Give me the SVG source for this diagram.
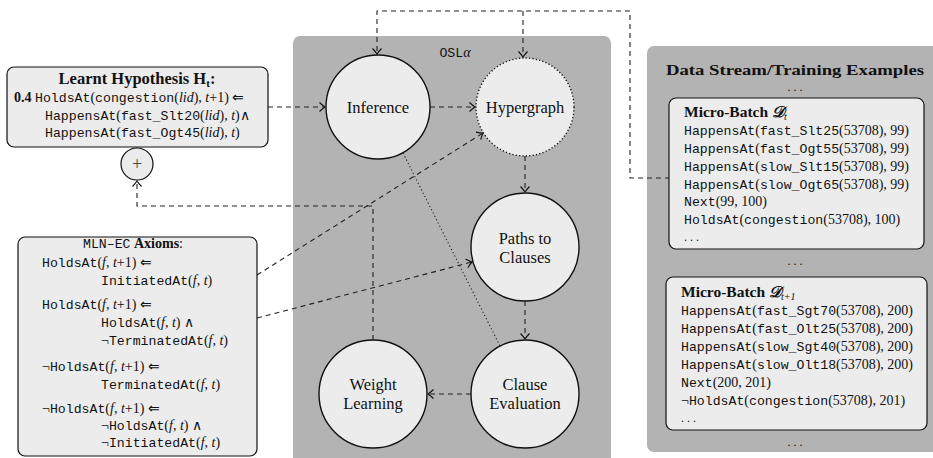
<svg xmlns="http://www.w3.org/2000/svg" width="933" height="458" viewBox="0 0 933 458">
<defs>
<style>
text{font-family:"Liberation Serif",serif;font-size:14px;fill:#111}
.tt{font-family:"Liberation Mono",monospace;font-size:13.2px}
.b{font-weight:bold}
.i{font-style:italic}
.lbl{font-size:16.5px}
.panel{fill:#b3b3b3}
.box{fill:#ececec;stroke:#111;stroke-width:1.2}
.node{fill:#ececec;stroke:#111;stroke-width:1.4}
.dot{stroke-dasharray:1.2,2.2}
.c{fill:none;stroke:#222;stroke-width:1.1;stroke-dasharray:5,4}
.cd{fill:none;stroke:#222;stroke-width:1.1;stroke-dasharray:1.2,2.5}
.dots{font-size:12px}
</style>
<marker id="ar" viewBox="-7 -6 9 12" refX="0" refY="0" markerWidth="9" markerHeight="12" markerUnits="userSpaceOnUse" orient="auto">
<path d="M-5.5,-4.5 Q-2,-1.2 0,0 Q-2,1.2 -5.5,4.5" fill="none" stroke="#111" stroke-width="1.1"/>
</marker>
</defs>

<rect class="panel" x="293" y="36" width="318" height="440" rx="7"/>
<rect class="panel" x="647" y="46" width="300" height="406" rx="7"/>
<text x="455" y="57" text-anchor="middle"><tspan class="tt">OSL</tspan><tspan class="i">α</tspan></text>

<g id="connectors">
<path class="c" d="M670,178 H630 V11 H377 V54" marker-end="url(#ar)"/>
<path class="c" d="M523,11 V57" marker-end="url(#ar)"/>
<path class="c" d="M268,107 H325" marker-end="url(#ar)"/>
<path class="c" d="M430,107 H475" marker-end="url(#ar)"/>
<path class="c" d="M525,156 V192" marker-end="url(#ar)"/>
<path class="c" d="M525,301 V339" marker-end="url(#ar)"/>
<path class="c" d="M471,394 H428" marker-end="url(#ar)"/>
<path class="c" d="M373,340 V206 H137 V181" marker-end="url(#ar)"/>
<path class="c" d="M257,275 L483,133" marker-end="url(#ar)"/>
<path class="c" d="M257,318 L472,262" marker-end="url(#ar)"/>
<path class="cd" d="M403,153 L500,346"/>
</g>

<g id="hypothesis">
<rect class="box" x="7" y="67" width="261" height="80" rx="7"/>
<text x="137" y="84" text-anchor="middle" class="b" style="font-size:16.5px">Learnt Hypothesis H<tspan font-size="11" dy="3">t</tspan><tspan dy="-3">:</tspan></text>
<text x="14" y="102"><tspan class="b">0.4</tspan> <tspan class="tt">HoldsAt</tspan>(<tspan class="tt">congestion</tspan>(<tspan class="i">lid</tspan>), <tspan class="i">t</tspan>+1) ⇐</text>
<text x="45" y="120"><tspan class="tt">HappensAt</tspan>(<tspan class="tt">fast_Slt20</tspan>(<tspan class="i">lid</tspan>), <tspan class="i">t</tspan>)∧</text>
<text x="45" y="137"><tspan class="tt">HappensAt</tspan>(<tspan class="tt">fast_Ogt45</tspan>(<tspan class="i">lid</tspan>), <tspan class="i">t</tspan>)</text>
</g>

<g id="plus">
<circle class="box" cx="137" cy="164" r="16"/>
<text x="137" y="170" text-anchor="middle" style="font-size:18px;fill:#444">+</text>
</g>

<g id="axioms">
<rect class="box" x="18" y="237" width="239" height="219" rx="7"/>
<text x="133" y="248" text-anchor="middle"><tspan class="tt">MLN–EC</tspan> <tspan class="b">Axioms</tspan>:</text>
<text x="42" y="267"><tspan class="tt">HoldsAt</tspan>(<tspan class="i">f</tspan>, <tspan class="i">t</tspan>+1) ⇐</text>
<text x="101" y="285"><tspan class="tt">InitiatedAt</tspan>(<tspan class="i">f</tspan>, <tspan class="i">t</tspan>)</text>
<text x="42" y="309"><tspan class="tt">HoldsAt</tspan>(<tspan class="i">f</tspan>, <tspan class="i">t</tspan>+1) ⇐</text>
<text x="101" y="327"><tspan class="tt">HoldsAt</tspan>(<tspan class="i">f</tspan>, <tspan class="i">t</tspan>) ∧</text>
<text x="101" y="345">¬<tspan class="tt">TerminatedAt</tspan>(<tspan class="i">f</tspan>, <tspan class="i">t</tspan>)</text>
<text x="42" y="371">¬<tspan class="tt">HoldsAt</tspan>(<tspan class="i">f</tspan>, <tspan class="i">t</tspan>+1) ⇐</text>
<text x="101" y="389"><tspan class="tt">TerminatedAt</tspan>(<tspan class="i">f</tspan>, <tspan class="i">t</tspan>)</text>
<text x="42" y="413">¬<tspan class="tt">HoldsAt</tspan>(<tspan class="i">f</tspan>, <tspan class="i">t</tspan>+1) ⇐</text>
<text x="101" y="430">¬<tspan class="tt">HoldsAt</tspan>(<tspan class="i">f</tspan>, <tspan class="i">t</tspan>) ∧</text>
<text x="101" y="447">¬<tspan class="tt">InitiatedAt</tspan>(<tspan class="i">f</tspan>, <tspan class="i">t</tspan>)</text>
</g>

<g id="inference">
<circle class="node" cx="378" cy="107" r="52"/>
<text class="lbl" x="378" y="113" text-anchor="middle">Inference</text>
</g>
<g id="hypergraph">
<circle class="node dot" cx="525" cy="107" r="49"/>
<text class="lbl" x="525" y="113" text-anchor="middle">Hypergraph</text>
</g>
<g id="paths">
<circle class="node" cx="525" cy="247" r="54"/>
<text class="lbl" x="525" y="244" text-anchor="middle">Paths to</text>
<text class="lbl" x="525" y="263" text-anchor="middle">Clauses</text>
</g>
<g id="evaluation">
<circle class="node" cx="525" cy="394" r="54"/>
<text class="lbl" x="525" y="390" text-anchor="middle">Clause</text>
<text class="lbl" x="525" y="409" text-anchor="middle">Evaluation</text>
</g>
<g id="weight">
<circle class="node" cx="373" cy="394" r="54"/>
<text class="lbl" x="373" y="390" text-anchor="middle">Weight</text>
<text class="lbl" x="373" y="409" text-anchor="middle">Learning</text>
</g>

<g id="datastream">
<text x="795" y="75" text-anchor="middle" class="b" style="font-size:15.5px" textLength="258" lengthAdjust="spacingAndGlyphs">Data Stream/Training Examples</text>
<text class="dots" x="795" y="91" text-anchor="middle">. . .</text>
<text class="dots" x="795" y="265" text-anchor="middle">. . .</text>
<text class="dots" x="795" y="446" text-anchor="middle">. . .</text>
</g>

<g id="batch1">
<rect class="box" x="669" y="98" width="255" height="151" rx="7"/>
<text x="684" y="117" class="b" style="font-size:15.5px">Micro-Batch <tspan class="i">𝒟</tspan><tspan font-size="10" font-weight="normal" class="i" dy="3">t</tspan></text>
<text x="684" y="135"><tspan class="tt">HappensAt</tspan>(<tspan class="tt">fast_Slt25</tspan>(53708), 99)</text>
<text x="684" y="153"><tspan class="tt">HappensAt</tspan>(<tspan class="tt">fast_Ogt55</tspan>(53708), 99)</text>
<text x="684" y="171"><tspan class="tt">HappensAt</tspan>(<tspan class="tt">slow_Slt15</tspan>(53708), 99)</text>
<text x="684" y="189"><tspan class="tt">HappensAt</tspan>(<tspan class="tt">slow_Ogt65</tspan>(53708), 99)</text>
<text x="684" y="206"><tspan class="tt">Next</tspan>(99, 100)</text>
<text x="684" y="224"><tspan class="tt">HoldsAt</tspan>(<tspan class="tt">congestion</tspan>(53708), 100)</text>
<text class="dots" x="684" y="241">. . .</text>
</g>

<g id="batch2">
<rect class="box" x="666" y="277" width="261" height="153" rx="7"/>
<text x="681" y="297" class="b" style="font-size:15.5px">Micro-Batch <tspan class="i">𝒟</tspan><tspan font-size="10" font-weight="normal" class="i" dy="3">t+1</tspan></text>
<text x="681" y="315"><tspan class="tt">HappensAt</tspan>(<tspan class="tt">fast_Sgt70</tspan>(53708), 200)</text>
<text x="681" y="333"><tspan class="tt">HappensAt</tspan>(<tspan class="tt">fast_Olt25</tspan>(53708), 200)</text>
<text x="681" y="351"><tspan class="tt">HappensAt</tspan>(<tspan class="tt">slow_Sgt40</tspan>(53708), 200)</text>
<text x="681" y="369"><tspan class="tt">HappensAt</tspan>(<tspan class="tt">slow_Olt18</tspan>(53708), 200)</text>
<text x="681" y="387"><tspan class="tt">Next</tspan>(200, 201)</text>
<text x="681" y="405">¬<tspan class="tt">HoldsAt</tspan>(<tspan class="tt">congestion</tspan>(53708), 201)</text>
<text class="dots" x="681" y="422">. . .</text>
</g>
</svg>
